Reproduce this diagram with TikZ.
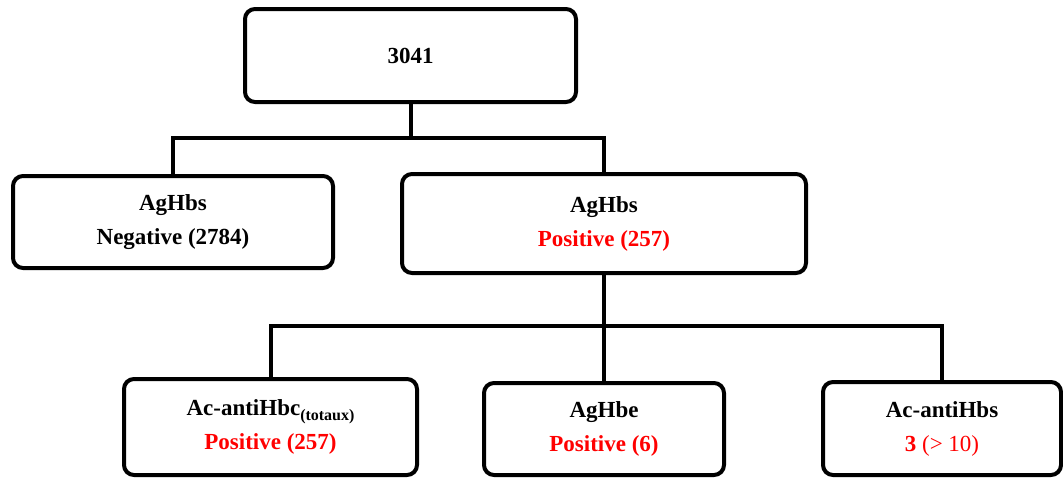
\documentclass[tikz,border=0pt]{standalone}
\usepackage{fontspec}
\setmainfont{Liberation Serif}
\usepackage{xcolor}
\usepackage{tikz}
\tikzset{
  box/.style     = { draw, line width=4pt, rounded corners=10pt, align=center,
                     font=\fontsize{23}{34}\selectfont\bfseries },
  connect/.style = { line width=4pt },
  pos/.style     = { text=red }
}
\newcommand{\subtxt}[1]{\raisebox{-5pt}{\fontsize{16}{16}\selectfont #1}}

\begin{document}
\begin{tikzpicture}[x=1pt,y=-1pt]
\useasboundingbox (0,0) rectangle (1063,477);
\node[box, minimum width=331pt, minimum height=93pt] (root) at (410.5,55.5) {3041};
\node[box, minimum width=320pt, minimum height=92pt] (neg) at (173,222) {AgHbs\\Negative (2784)};
\node[box, minimum width=404pt, minimum height=99pt] (agpos) at (604,223.5) {AgHbs\\\textcolor{red}{Positive (257)}};
\node[box, minimum width=293pt, minimum height=96pt] (hbc) at (270.5,427) {Ac-antiHbc\subtxt{(totaux)}\\\textcolor{red}{Positive (257)}};
\node[box, minimum width=240pt, minimum height=92pt] (hbe) at (604,429) {AgHbe\\\textcolor{red}{Positive (6)}};
\node[box, minimum width=238pt, minimum height=93pt] (hbs) at (942,428.5) {Ac-antiHbs\\\textcolor{red}{3 \mdseries(> 10)}};
\coordinate (split1) at (410.5,138);
\coordinate (split2) at (604,326);
\draw[connect] (root.south) -- (split1);
\draw[connect] (split1) -| (neg.north);
\draw[connect] (split1) -| (agpos.north);
\draw[connect] (agpos.south) -- (split2);
\draw[connect] (split2) -| (hbc.north);
\draw[connect] (split2) -- (hbe.north);
\draw[connect] (split2) -| (hbs.north);
\end{tikzpicture}
\end{document}
